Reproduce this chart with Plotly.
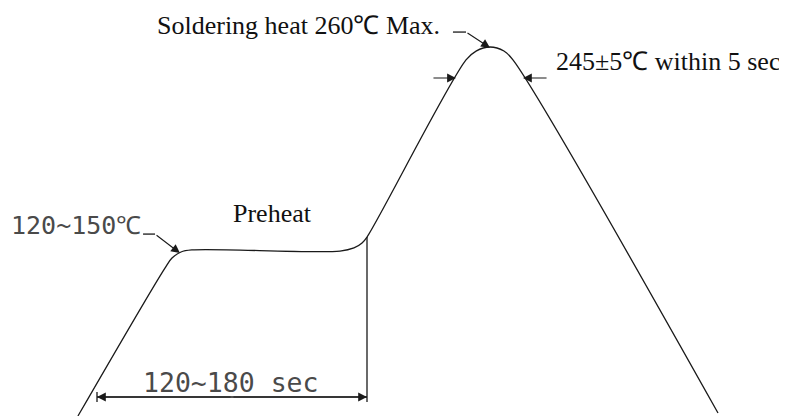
import plotly.graph_objects as go

# Reflow profile (schematic): time in seconds, temperature in deg C
time_s = [-12.7, 45.3, 50.0, 56.0, 63.3, 162.0, 171.3, 176.7, 180.0,
          246.0, 252.7, 262.0, 271.3, 277.3, 414.0]
temp_c = [60.0, 140.2, 145.6, 148.9, 150.0, 149.4, 151.1, 153.8, 157.0,
          253.0, 257.8, 260.0, 257.8, 253.0, 61.6]

# Preheat dimension
preheat_t = [0.0, 180.0]
dim_temp = 70.3
dim_tick_temp = [67.6, 73.0]
preheat_end_temp = [157.0, 67.6]

# Peak window (245 +/- 5 C within 5 sec)
window_temp = 243.2
window_left = [223.3, 239.3]   # tail, tip
window_right = [300.7, 284.0]  # tail, tip

# Leaders
soak_leader_t = [30.7, 38.7, 55.3]
soak_leader_temp = [158.6, 158.6, 148.3]
peak_leader_t = [237.3, 246.0, 262.0]
peak_leader_temp = [268.1, 268.1, 259.6]

# Labels
label_text = ["Soldering heat 260\u2103 Max.", "245\u00b15\u2103 within 5 sec", "Preheat",
              "120~150\u2103", "120~180 sec"]
label_t = [38.7, 304.7, 89.3, -58.7, 29.3]
label_temp = [271.9, 251.9, 170.0, 163.0, 78.4]
label_font = ["Liberation Serif", "Liberation Serif", "Liberation Serif",
              "DejaVu Sans Mono", "DejaVu Sans Mono"]
label_size = [26, 26, 26, 25, 26.5]

LC = "#1a1a1a"
LW = 1.3

fig = go.Figure()
fig.add_trace(go.Scatter(x=time_s, y=temp_c, mode="lines",
                         line=dict(color=LC, width=LW, shape="spline", smoothing=1.0),
                         hoverinfo="skip", showlegend=False))
# vertical end of preheat
fig.add_trace(go.Scatter(x=[preheat_t[1], preheat_t[1]], y=preheat_end_temp, mode="lines",
                         line=dict(color=LC, width=LW), hoverinfo="skip", showlegend=False))
# dimension line and tick
fig.add_trace(go.Scatter(x=preheat_t, y=[dim_temp, dim_temp], mode="lines",
                         line=dict(color=LC, width=LW), hoverinfo="skip", showlegend=False))
fig.add_trace(go.Scatter(x=[preheat_t[0], preheat_t[0]], y=dim_tick_temp, mode="lines",
                         line=dict(color=LC, width=LW), hoverinfo="skip", showlegend=False))
# leader polylines (without the arrowed last segment)
fig.add_trace(go.Scatter(x=soak_leader_t[:2], y=soak_leader_temp[:2], mode="lines",
                         line=dict(color=LC, width=LW), hoverinfo="skip", showlegend=False))
fig.add_trace(go.Scatter(x=peak_leader_t[:2], y=peak_leader_temp[:2], mode="lines",
                         line=dict(color=LC, width=LW), hoverinfo="skip", showlegend=False))


def arrow(tip_x, tip_y, tail_x, tail_y):
    fig.add_annotation(x=tip_x, y=tip_y, ax=tail_x, ay=tail_y, xref="x", yref="y",
                       axref="x", ayref="y", text="", showarrow=True, arrowhead=2,
                       arrowsize=1.6, arrowwidth=1.1, arrowcolor=LC, standoff=0,
                       startstandoff=0)


arrow(soak_leader_t[2], soak_leader_temp[2], soak_leader_t[1], soak_leader_temp[1])
arrow(peak_leader_t[2], peak_leader_temp[2], peak_leader_t[1], peak_leader_temp[1])
arrow(window_left[1], window_temp, window_left[0], window_temp)
arrow(window_right[1], window_temp, window_right[0], window_temp)
mid = (preheat_t[0] + preheat_t[1]) / 2
arrow(preheat_t[0], dim_temp, mid, dim_temp)
arrow(preheat_t[1], dim_temp, mid, dim_temp)

for txt, tx, ty, fam, sz in zip(label_text, label_t, label_temp, label_font, label_size):
    fig.add_annotation(x=tx, y=ty, xref="x", yref="y", text=txt, showarrow=False,
                       xanchor="left", yanchor="middle",
                       font=dict(family=fam, size=sz,
                                 color="#111" if fam == "Liberation Serif" else "#4a4a4a"))

# ranges account for the 8px default page margin around the plot div
fig.update_layout(width=787, height=416, margin=dict(l=0, r=0, t=0, b=0),
                  paper_bgcolor="white", plot_bgcolor="white",
                  xaxis=dict(range=[-59.33, 465.33], visible=False, fixedrange=True),
                  yaxis=dict(range=[55.66, 281.14], visible=False, fixedrange=True))

fig.write_html("out.html")
